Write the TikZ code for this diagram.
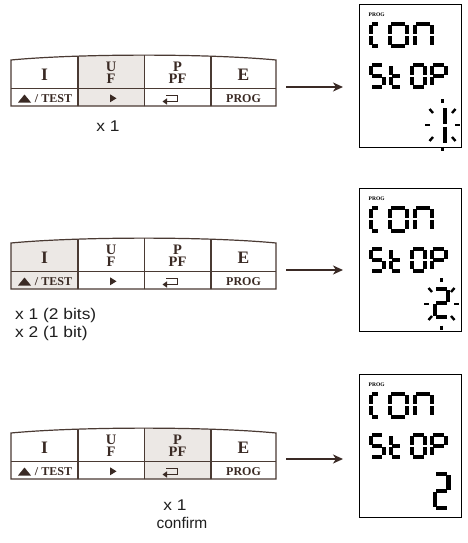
\documentclass[tikz,border=0pt]{standalone}
\usepackage{fontspec}
\setmainfont{Liberation Serif}
\newfontfamily\lsans{Liberation Sans}
\newfontfamily\lsansw[FakeStretch=1.12]{Liberation Sans}
\usetikzlibrary{arrows.meta,calc}

\definecolor{kline}{HTML}{4A3A33}
\definecolor{ktext}{HTML}{3A2A24}
\definecolor{kfill}{HTML}{ECE8E5}
\definecolor{arr}{HTML}{3A2A25}

\tikzset{
  keyline/.style={draw=kline, line width=1.2pt},
  bigkey/.style={font=\fontsize{17.5}{17.5}\selectfont\bfseries, text=ktext, inner sep=0, anchor=base},
  stackkey/.style={font=\fontsize{14.5}{14.5}\selectfont\bfseries, text=ktext, inner sep=0, anchor=base, text height=9.6pt, text depth=0pt},
  smallkey/.style={font=\fontsize{12}{12}\selectfont\bfseries, text=ktext, inner sep=0, anchor=base},
  lbl/.style={font=\lsansw\fontsize{15.5}{16}\selectfont, text=black!88, inner sep=0, anchor=base},
  lblc/.style={font=\lsans\fontsize{15.5}{16}\selectfont, text=black!88, inner sep=0, anchor=base},
  lcdbox/.style={draw=black, line width=1.3pt, minimum width=102pt, minimum height=143pt, anchor=north west, inner sep=0},
  proglbl/.style={font=\fontsize{5.5}{5.5}\selectfont\bfseries, inner sep=0, anchor=west},
  rowseg/.style={line width=4pt, line cap=butt},
  bigseg/.style={line width=4.2pt, line cap=butt},
  raystyle/.style={line width=2.4pt},
  flow/.style={draw=arr, line width=2pt, -{Stealth[length=10pt,width=9pt,inset=3pt]}},
}

% seven segment digit: x, y (top-left), width, height, segments
\def\zg{1.1}
\def\zsega{({\zg},0) -- ({\dW-\zg},0)}
\def\zsegb{(\dW,{\zg}) -- (\dW,{\dHh-\zg})}
\def\zsegc{(\dW,{\dHh+\zg}) -- (\dW,{\dH-\zg})}
\def\zsegd{({\zg},\dH) -- ({\dW-\zg},\dH)}
\def\zsege{(0,{\dHh+\zg}) -- (0,{\dH-\zg})}
\def\zsegf{(0,{\zg}) -- (0,{\dHh-\zg})}
\def\zsegg{({\zg},\dHh) -- ({\dW-\zg},\dHh)}
\newcommand\sdig[5]{%
  \begin{scope}[shift={(#1,#2)}]
    \pgfmathsetmacro\dW{#3}%
    \pgfmathsetmacro\dH{#4}%
    \pgfmathsetmacro\dHh{#4/2}%
    \foreach \sx in {#5}{\expandafter\draw\csname zseg\sx\endcsname;}
  \end{scope}}

\newcommand\rays[2]{%
  \foreach \dx/\dy/\ex/\ey in {12.5/0/17.5/0, -12.5/0/-17.5/0, 9.5/-12/13/-16, -9.5/-12/-13/-16,
      9.5/12/13/16, -9.5/12/-13/16, 0/-22/0/-26.5, 0/21.5/0/25.5}
    {\draw[raystyle] ($(#1,#2)+(\dx,\dy)$) -- ($(#1,#2)+(\ex,\ey)$);}}

\newcommand\lcdtext[2]{%
  \node[proglbl] (#2prog) at (368.5,#1+11) {PROG};
  \begin{scope}[rowseg]
    \sdig{371}{#1+20}{8}{22.5}{a,d,e,f}
    \sdig{390}{#1+20}{16.5}{22.5}{a,b,c,d,e,f}
    \sdig{415}{#1+20}{16.5}{22.5}{a,b,c,e,f}
    \sdig{371}{#1+61}{12.5}{21.5}{a,f,g,c,d}
    \sdig{390.5}{#1+61}{10.5}{21.5}{f,e,g,d}
    \sdig{412}{#1+61}{13}{21.5}{a,b,c,d,e,f}
    \sdig{431.5}{#1+61}{14}{21.5}{a,b,f,g,e}
  \end{scope}}

\def\kpshape{(11,0) .. controls (80,-6.5) and (208,-6.5) .. (276,0) -- (276,46) -- (11,46) -- cycle}

\newcommand\keypad[4]{%
  \begin{scope}[shift={(0,#1)}]
    \begin{scope}
      \clip \kpshape;
      \fill[kfill] (#2,-9) rectangle (#3,47);
      \draw[keyline] (78,-9) -- (78,47) (144.5,-9) -- (144.5,47) (211,-9) -- (211,47);
    \end{scope}
    \draw[keyline] (11,28.5) -- (276,28.5);
    \draw[keyline] \kpshape;
    \node[bigkey] (#4I) at (44.5,20.5) {I};
    \node[stackkey] (#4U) at (111,11.2) {U};
    \node[stackkey] (#4F) at (111,23.6) {F};
    \node[stackkey] (#4P) at (177.5,11.2) {P};
    \node[stackkey] (#4PF) at (177.5,23.6) {PF};
    \node[bigkey] (#4E) at (243.5,20.5) {E};
    \fill[ktext] (18,42.5) -- (31,42.5) -- (24.5,34.5) -- cycle;
    \node[smallkey] (#4T) at (53.5,42.5) {/ TEST};
    \fill[ktext] (110,34.3) -- (110,42.3) -- (116.5,38.3) -- cycle;
    \draw[ktext, line width=1.7pt] (166,35.5) -- (177.5,35.5) -- (177.5,41.5) -- (166,41.5);
    \fill[ktext] (162.5,41.5) -- (167,38.3) -- (167,44.7) -- cycle;
    \node[smallkey] (#4G) at (243.5,42.5) {PROG};
  \end{scope}}

\begin{document}
\begin{tikzpicture}[x=1pt,y=-1pt]
\useasboundingbox (0,0) rectangle (468,543);
\fill[white] (0,0) rectangle (468,543);

% keypads
\keypad{60}{78}{144.5}{ka}
\keypad{243}{11}{78}{kb}
\keypad{433}{144.5}{211}{kc}

% labels
\node[lbl] (la) at (108,131) {x 1};
\node[lbl, anchor=base west] (lb1) at (15,319) {x 1 (2 bits)};
\node[lbl, anchor=base west] (lb2) at (15,337) {x 2 (1 bit)};
\node[lbl] (lc1) at (175,510) {x 1};
\node[lblc] (lc2) at (182,528) {confirm};

% LCD panels
\node[lcdbox] (lcd1) at (359,4) {};
\node[lcdbox] (lcd2) at (359,188) {};
\node[lcdbox] (lcd3) at (359,374) {};

\lcdtext{4}{da}
\lcdtext{188}{db}
\lcdtext{374}{dc}

% third row digits
\begin{scope}[bigseg]
  \sdig{431.5}{4+103}{13.5}{37}{b,c}
  \sdig{435}{188+101}{13}{28}{a,b,g,e,d}
  \sdig{435}{374+100}{13.5}{34}{a,b,g,e,d}
\end{scope}
\rays{442.5}{4+121}
\rays{441.5}{188+116}

% arrows
\coordinate (a1s) at (286,87);  \coordinate (a1e) at (343,87);
\coordinate (a2s) at (286,270); \coordinate (a2e) at (343,270);
\coordinate (a3s) at (286,459); \coordinate (a3e) at (343,459);
\draw[flow] (a1s) -- (a1e);
\draw[flow] (a2s) -- (a2e);
\draw[flow] (a3s) -- (a3e);
\end{tikzpicture}
\end{document}
